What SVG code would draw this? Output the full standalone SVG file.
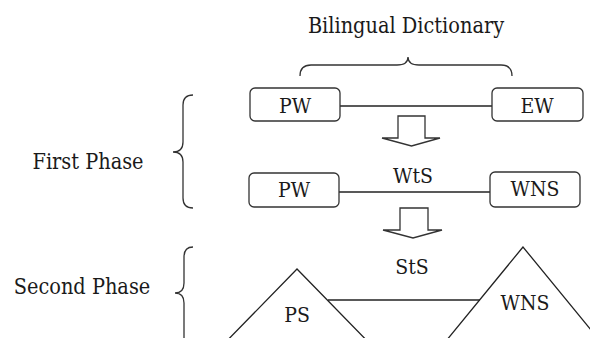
<svg xmlns="http://www.w3.org/2000/svg" width="590" height="338" viewBox="0 0 590 338">
<style>
text{font-family:'DejaVu Serif Condensed','DejaVu Serif',serif;font-stretch:condensed;fill:#1a1a1a;text-anchor:middle}
.big{font-size:21.5px}
.lbl{font-size:21px}
.box{fill:#fff;stroke:#333;stroke-width:1.3}
.ln{stroke:#222;stroke-width:1.3;fill:none}
.br{stroke:#333;stroke-width:1.3;fill:none}
.arr{fill:#fff;stroke:#333;stroke-width:1.3;stroke-linejoin:miter}
</style>
<rect width="590" height="338" fill="#fff"/>
<g id="labels">
<text class="big" x="406" y="33">Bilingual Dictionary</text>
<text class="big" x="88" y="169">First Phase</text>
<text class="big" x="82" y="294">Second Phase</text>
</g>
<g id="braces">
<path class="br" d="M300,76 Q300,65 311,65 L397,65 Q408,65 408,57 Q408,65 419,65 L501,65 Q512,65 512,76"/>
<path class="br" d="M193,95 Q183,95 183,105 L183,142 Q183,152 173,152 Q183,152 183,162 L183,198 Q183,208 193,208"/>
<path class="br" d="M193,247 Q184,247 184,257 L184,283 Q184,293 175,293 Q184,293 184,303 L184,340 Q184,350 193,350"/>
</g>
<g id="connectors">
<line class="ln" x1="340" y1="106" x2="492" y2="106"/>
<line class="ln" x1="339" y1="192" x2="490" y2="192"/>
<line class="ln" x1="328" y1="300" x2="480" y2="300"/>
<text class="lbl" x="413" y="183">WtS</text>
<text class="lbl" x="412" y="274">StS</text>
</g>
<g id="arrow1"><path class="arr" d="M398,116 L425,116 L425,138 L440,138 L411.5,146 L382,138 L398,138 Z"/></g>
<g id="arrow2"><path class="arr" d="M400,208 L428,208 L428,230 L442,230 L413,238 L383,230 L400,230 Z"/></g>
<g id="pw1"><rect class="box" x="250" y="88" width="90" height="33" rx="5"/><text class="lbl" x="295" y="113">PW</text></g>
<g id="ew"><rect class="box" x="492" y="88" width="91" height="33" rx="5"/><text class="lbl" x="537" y="113">EW</text></g>
<g id="pw2"><rect class="box" x="249" y="173" width="90" height="34" rx="5"/><text class="lbl" x="294" y="197">PW</text></g>
<g id="wns1"><rect class="box" x="490" y="172" width="90" height="35" rx="5"/><text class="lbl" x="535" y="196">WNS</text></g>
<g id="ps"><polygon class="ln" points="297,269 216,352 378,352"/><text class="lbl" x="297" y="322">PS</text></g>
<g id="wns2"><polygon class="ln" points="523,247 437,352 609,352"/><text class="lbl" x="525" y="310">WNS</text></g>
</svg>
